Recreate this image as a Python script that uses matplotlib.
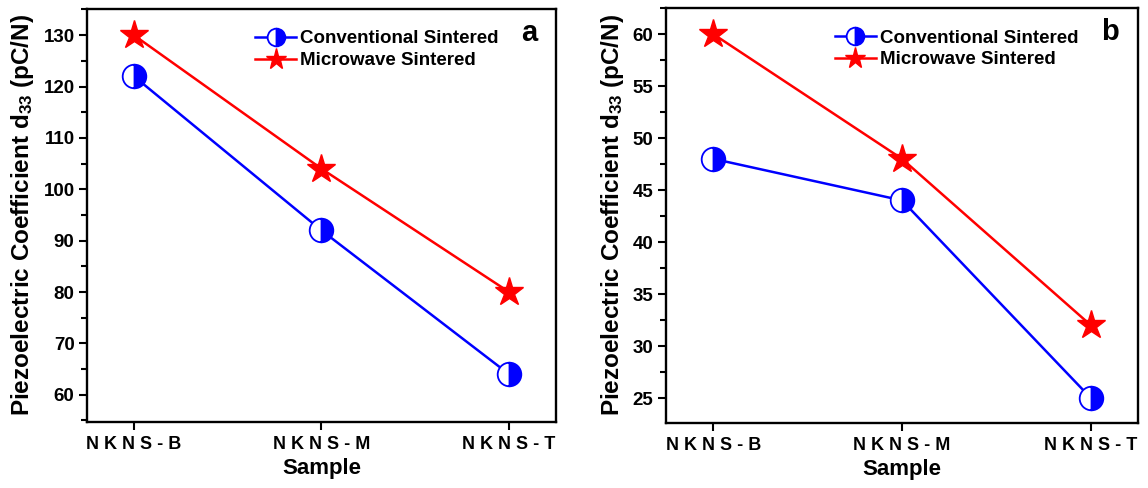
import matplotlib.pyplot as plt
from matplotlib.ticker import MultipleLocator

plt.rcParams['font.family'] = ['Liberation Sans', 'DejaVu Sans']
plt.rcParams['font.weight'] = 'bold'
plt.rcParams['mathtext.fontset'] = 'custom'
plt.rcParams['mathtext.rm'] = 'Liberation Sans:bold'
plt.rcParams['mathtext.default'] = 'rm'

# data
samples = ['N K N S - B', 'N K N S - M', 'N K N S - T']
conv_a = [122, 92, 64]
micro_a = [130, 104, 80]
conv_b = [48, 44, 25]
micro_b = [60, 48, 32]

blue = '#0000FF'
red = '#FF0000'

fig = plt.figure(figsize=(11.48, 4.88), dpi=100)
ax1 = fig.add_axes([0.0758, 0.1352, 0.4085, 0.8464])
ax2 = fig.add_axes([0.5801, 0.1332, 0.4112, 0.8504])


def draw_panel(ax, conv, micro, ylim, major, minor, letter):
    x = range(len(samples))
    ax.plot(x, conv, color=blue, lw=1.8, marker='o', ms=17, fillstyle='right',
            markerfacecolor=blue, markerfacecoloralt='white', markeredgecolor=blue,
            mew=1.3, label='Conventional Sintered', zorder=3)
    ax.plot(x, micro, color=red, lw=1.8, marker='*', ms=21, markerfacecolor=red,
            markeredgecolor=red, label='Microwave Sintered', zorder=3)
    ax.set_xlim(-0.25, 2.25)
    ax.set_ylim(*ylim)
    ax.set_xticks(list(x))
    ax.set_xticklabels(samples, fontsize=13, fontweight='bold')
    ax.yaxis.set_major_locator(MultipleLocator(major))
    ax.yaxis.set_minor_locator(MultipleLocator(minor))
    ax.tick_params(axis='y', which='major', direction='out', length=6, width=1.5,
                   labelsize=13.5, pad=3)
    ax.tick_params(axis='y', which='minor', direction='out', length=4, width=1.5)
    ax.tick_params(axis='x', direction='out', length=6, width=1.5, pad=4)
    for s in ax.spines.values():
        s.set_linewidth(1.7)
    ax.set_xlabel('Sample', fontsize=16, fontweight='bold', labelpad=4)
    ax.set_ylabel(r'Piezoelectric Coefficient d$_{33}$ (pC/N)', fontsize=17.5,
                  fontweight='bold', labelpad=5)
    leg = ax.legend(loc='upper left', bbox_to_anchor=(0.33, 0.98), frameon=False,
                    fontsize=13.5, markerscale=0.75, handlelength=2.2,
                    handletextpad=0.2, labelspacing=0.25, borderaxespad=0.3)
    for t in leg.get_texts():
        t.set_fontweight('bold')
    ax.text(0.96, 0.975, letter, transform=ax.transAxes, fontsize=21,
            fontweight='bold', ha='right', va='top')


draw_panel(ax1, conv_a, micro_a, (54.7, 135.1), 10, 5, 'a')
draw_panel(ax2, conv_b, micro_b, (22.6, 62.5), 5, 2.5, 'b')

fig.savefig('out.png', dpi=100)
